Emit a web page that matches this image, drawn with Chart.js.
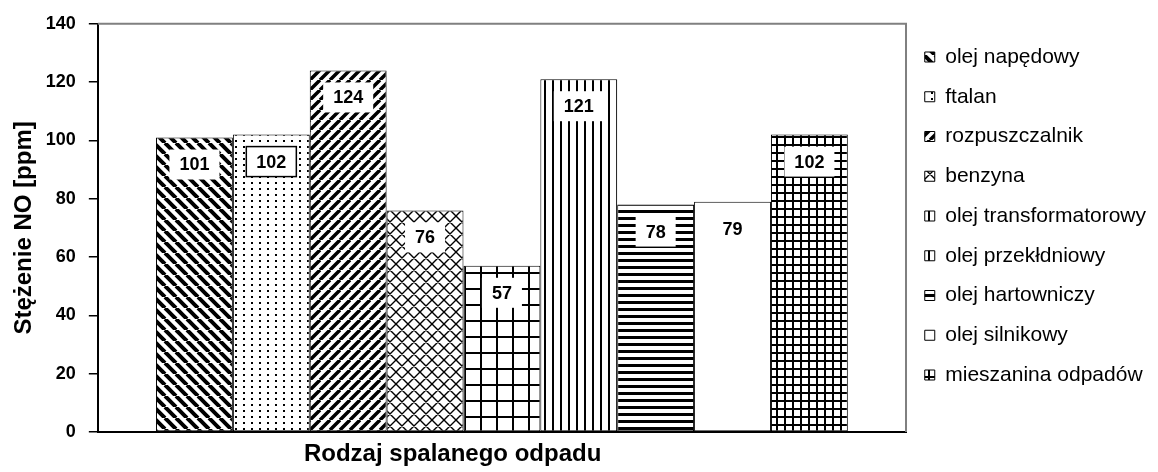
<!DOCTYPE html>
<html lang="pl">
<head>
<meta charset="utf-8">
<title>Stężenie NO</title>
<script src="https://cdn.jsdelivr.net/npm/chart.js@4.4.1/dist/chart.umd.min.js"></script>
<style>
  html, body { margin: 0; padding: 0; background: #fff; }
  #wrap { width: 1158px; height: 472px; position: relative; }
</style>
</head>
<body>
<div id="wrap"><canvas id="noChart"></canvas></div>
<script>
const WASTE_TYPES = [
  "olej napędowy",
  "ftalan",
  "rozpuszczalnik",
  "benzyna",
  "olej transformatorowy",
  "olej przekłdniowy",
  "olej hartowniczy",
  "olej silnikowy",
  "mieszanina odpadów",
];
const NO_PPM = [101, 102, 124, 76, 57, 121, 78, 79, 102];
const Y_TICKS = [0, 20, 40, 60, 80, 100, 120, 140];
const Y_TITLE = "Stężenie NO [ppm]";
const X_TITLE = "Rodzaj spalanego odpadu";

const FONT = "Arial, 'Liberation Sans', sans-serif";
Chart.defaults.font.family = FONT;
Chart.defaults.color = "#000";

// --- fill patterns (black on white, like the printed original) ---
const makePattern = (w, h, draw) => {
  const c = document.createElement("canvas");
  c.width = w;
  c.height = h;
  const g = c.getContext("2d");
  g.fillStyle = "#fff";
  g.fillRect(0, 0, w, h);
  g.fillStyle = "#000";
  g.strokeStyle = "#000";
  draw(g, w, h);
  return g.createPattern(c, "repeat");
};

const diagonal = (s, width, rising) =>
  makePattern(s, s, (g) => {
    g.lineWidth = width;
    g.beginPath();
    for (let k = -1; k <= 1; k += 1) {
      if (rising) {
        g.moveTo(k * s, s);
        g.lineTo(k * s + s, 0);
      } else {
        g.moveTo(k * s, 0);
        g.lineTo(k * s + s, s);
      }
    }
    g.stroke();
  });

const PATTERNS = [
  diagonal(11, 4, false),
  makePattern(8, 6, (g) => g.fillRect(3, 2, 2, 2)),
  diagonal(10, 3.5, true),
  makePattern(12, 12, (g) => {
    g.lineWidth = 1.4;
    g.beginPath();
    for (let k = -1; k <= 1; k += 1) {
      g.moveTo(k * 12, 12);
      g.lineTo(k * 12 + 12, 0);
      g.moveTo(k * 12, 0);
      g.lineTo(k * 12 + 12, 12);
    }
    g.stroke();
  }),
  makePattern(16, 16, (g) => {
    g.fillRect(0, 0, 16, 2);
    g.fillRect(0, 0, 2, 16);
  }),
  makePattern(8, 8, (g) => g.fillRect(0, 0, 2, 8)),
  makePattern(8, 7, (g) => g.fillRect(0, 0, 8, 3)),
  "#ffffff",
  makePattern(8, 8, (g) => {
    g.fillRect(0, 0, 8, 2);
    g.fillRect(0, 0, 2, 8);
  }),
];

// --- plugins ---
const whiteBackground = {
  id: "whiteBackground",
  beforeDraw(chart) {
    const { ctx } = chart;
    ctx.save();
    ctx.fillStyle = "#fff";
    ctx.fillRect(0, 0, chart.width, chart.height);
    ctx.restore();
  },
};

const plotFrame = {
  id: "plotFrame",
  beforeDatasetsDraw(chart) {
    const { ctx, chartArea: a } = chart;
    ctx.save();
    ctx.strokeStyle = "#808080";
    ctx.lineWidth = 2;
    ctx.beginPath();
    ctx.moveTo(a.left, a.top);
    ctx.lineTo(a.right, a.top);
    ctx.lineTo(a.right, a.bottom);
    ctx.stroke();
    ctx.restore();
  },
};

const valueLabels = {
  id: "valueLabels",
  afterDatasetsDraw(chart) {
    const { ctx } = chart;
    ctx.save();
    ctx.font = `bold 18px ${FONT}`;
    ctx.textAlign = "center";
    ctx.textBaseline = "middle";
    chart.data.datasets.forEach((ds, i) => {
      const meta = chart.getDatasetMeta(i);
      meta.data.forEach((bar, j) => {
        const text = String(ds.data[j]);
        const y = bar.y + 27;
        const w = ctx.measureText(text).width + 20;
        const h = 30;
        ctx.fillStyle = "#fff";
        ctx.fillRect(bar.x - w / 2, y - h / 2, w, h);
        if (ds.labelBorder) {
          ctx.strokeStyle = "#000";
          ctx.lineWidth = 1.5;
          ctx.strokeRect(bar.x - w / 2, y - h / 2, w, h);
        }
        ctx.fillStyle = "#000";
        ctx.fillText(text, bar.x, y + 1);
      });
    });
    ctx.restore();
  },
};

const xAxisTitle = {
  id: "xAxisTitle",
  afterDraw(chart) {
    const { ctx, chartArea: a } = chart;
    ctx.save();
    ctx.font = `bold 24px ${FONT}`;
    ctx.fillStyle = "#000";
    ctx.textAlign = "center";
    ctx.textBaseline = "middle";
    ctx.fillText(X_TITLE, a.left + (a.right - a.left) * 0.439, a.bottom + 22);
    ctx.restore();
  },
};

const datasets = WASTE_TYPES.map((name, i) => ({
  label: name,
  data: [NO_PPM[i]],
  backgroundColor: PATTERNS[i],
  borderColor: "#000",
  borderWidth: 1,
  borderSkipped: false,
  labelBorder: i === 1,
}));

new Chart(document.getElementById("noChart"), {
  type: "bar",
  data: { labels: [""], datasets },
  plugins: [whiteBackground, plotFrame, valueLabels, xAxisTitle],
  options: {
    responsive: true,
    maintainAspectRatio: false,
    animation: false,
    layout: { padding: { left: 16, top: 20, right: 2, bottom: 40 } },
    datasets: {
      bar: { categoryPercentage: 0.856, barPercentage: 1 },
    },
    plugins: {
      tooltip: { enabled: false },
      legend: {
        position: "right",
        align: "start",
        title: {
          display: true,
          text: " ",
          padding: 0,
          font: { size: 7.75, lineHeight: 1 },
        },
        labels: {
          boxWidth: 10,
          boxHeight: 10,
          padding: 18.75,
          color: "#000",
          font: { size: 21, family: FONT },
        },
      },
    },
    scales: {
      x: {
        ticks: { display: false },
        grid: { display: false, drawTicks: false },
        border: { display: true, color: "#000", width: 2 },
      },
      y: {
        min: Y_TICKS[0],
        max: Y_TICKS[Y_TICKS.length - 1],
        ticks: {
          stepSize: Y_TICKS[1] - Y_TICKS[0],
          padding: 13,
          color: "#000",
          font: { size: 18, weight: "bold" },
        },
        grid: {
          display: true,
          drawOnChartArea: false,
          drawTicks: true,
          tickLength: 9,
          color: "#000",
          lineWidth: 1.5,
        },
        border: { display: true, color: "#000", width: 2 },
        title: {
          display: true,
          text: Y_TITLE,
          color: "#000",
          padding: 0,
          font: { size: 24, weight: "bold", lineHeight: 0.7 },
        },
      },
    },
  },
});
</script>
</body>
</html>
